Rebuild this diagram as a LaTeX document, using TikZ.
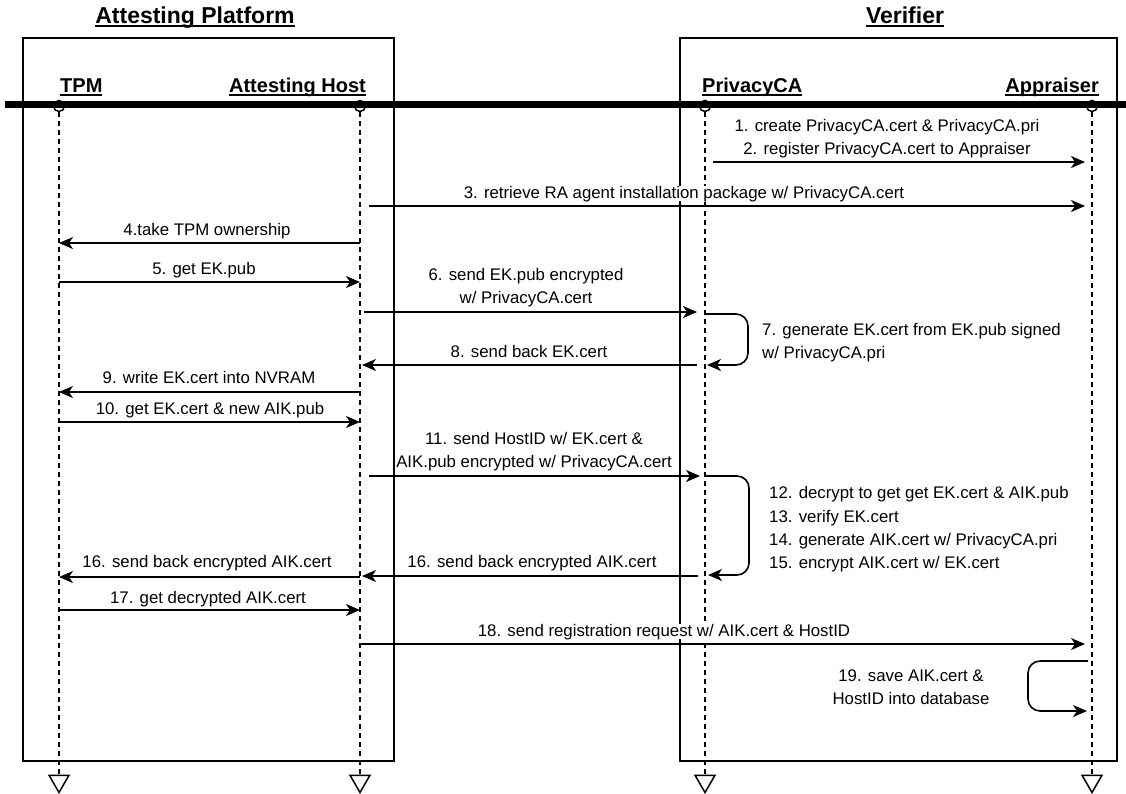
\documentclass[tikz,border=0pt]{standalone}
\usepackage{fontspec}
\setmainfont{Liberation Sans}
\usetikzlibrary{arrows.meta,shapes.geometric}

\newcommand{\ulbx}[1]{\setbox0\hbox{#1}\leavevmode\rlap{\vrule width\wd0 height -2pt depth 4pt}\box0}

\tikzstyle{gT}=[inner sep=0pt,anchor=base,font=\fontsize{23}{28}\selectfont\bfseries]
\tikzstyle{pT}=[inner sep=0pt,font=\fontsize{20}{24}\selectfont\bfseries]
\tikzstyle{mT}=[inner sep=0pt,anchor=base,fill=white,font=\fontsize{16.8}{23}\selectfont]
\tikzstyle{bS}=[line width=1.5pt]
\tikzstyle{lS}=[circle,minimum size=11pt,inner sep=0pt,draw,line width=1.5pt,fill=white]
\tikzstyle{lE}=[regular polygon,regular polygon sides=3,shape border rotate=180,minimum size=23pt,inner sep=0pt,draw,line width=1.5pt]
\tikzstyle{lL}=[line width=1.5pt,dash pattern=on 5pt off 4pt]
\tikzstyle{eM}=[line width=1.6pt,-{Stealth[length=14pt,width=12pt,inset=4pt]}]
\tikzstyle{eL}=[eM,rounded corners=12pt]

\begin{document}
\begin{tikzpicture}[x=1pt,y=-1pt]%[1px = 1pt]
                \useasboundingbox (0,0) rectangle (1126,793);
                \draw[bS] (23,38) rectangle (394,761);
                \draw[bS] (680,38) rectangle (1117,761);
                \draw (195,23) node[gT] (gAP) {\ulbx{Attesting Platform}};
                \draw (905,23) node[gT] (gV) {\ulbx{Verifier}};
                \draw (59,106) node[lS] (tpm) {};
                \draw (360,106) node[lS] (host) {};
                \draw (705,106) node[lS] (pca) {};
                \draw (1092,106) node[lS] (appr) {};
                \draw (59,781) node[lE] (tpmE) {};
                \draw (360,781) node[lE] (hostE) {};
                \draw (705,781) node[lE] (pcaE) {};
                \draw (1092,781) node[lE] (apprE) {};
                \path
                    (tpm) edge[lL] (tpmE)
                    (host) edge[lL] (hostE)
                    (pca) edge[lL] (pcaE)
                    (appr) edge[lL] (apprE)
                ;
                \draw[line width=7pt] (5,104.5) -- (1126,104.5);
                \draw (60,92) node[pT,anchor=base west] (lTPM) {\ulbx{TPM}};
                \draw (366,92) node[pT,anchor=base east] (lHost) {\ulbx{Attesting Host}};
                \draw (702,92) node[pT,anchor=base west] (lPCA) {\ulbx{PrivacyCA}};
                \draw (1099,92) node[pT,anchor=base east] (lAppr) {\ulbx{Appraiser}};
                \coordinate (a2) at (713,162); \coordinate (b2) at (1085,162);
                \coordinate (a3) at (369,206); \coordinate (b3) at (1085,206);
                \coordinate (a4) at (360,243); \coordinate (b4) at (59,243);
                \coordinate (a5) at (59,282); \coordinate (b5) at (360,282);
                \coordinate (a6) at (364,312); \coordinate (b6) at (697,312);
                \coordinate (a7) at (706,314); \coordinate (b7) at (707,365);
                \coordinate (a8) at (697,365); \coordinate (b8) at (362,365);
                \coordinate (a9) at (360,392); \coordinate (b9) at (59,392);
                \coordinate (a10) at (59,422); \coordinate (b10) at (360,422);
                \coordinate (a11) at (369,476); \coordinate (b11) at (700,476);
                \coordinate (a12) at (706,476); \coordinate (b12) at (708,575);
                \coordinate (a16) at (698,576); \coordinate (b16) at (362,576);
                \coordinate (c16) at (360,577); \coordinate (d16) at (59,577);
                \coordinate (a17) at (59,610); \coordinate (b17) at (360,610);
                \coordinate (a18) at (361,644); \coordinate (b18) at (1085,644);
                \coordinate (a19) at (1088,661); \coordinate (b19) at (1087,711);
                \path
                    (a2) edge[eM] (b2)
                    (a3) edge[eM] (b3)
                    (a4) edge[eM] (b4)
                    (a5) edge[eM] (b5)
                    (a6) edge[eM] (b6)
                    (a8) edge[eM] (b8)
                    (a9) edge[eM] (b9)
                    (a10) edge[eM] (b10)
                    (a11) edge[eM] (b11)
                    (a16) edge[eM] (b16)
                    (c16) edge[eM] (d16)
                    (a17) edge[eM] (b17)
                    (a18) edge[eM] (b18)
                ;
                \draw[eL] (a7) -- ++(42,0) |- (b7);
                \draw[eL] (a12) -- ++(43,0) |- (b12);
                \draw[eL] (a19) -- ++(-60,0) |- (b19);
                \draw (887,131) node[mT] (t1) {1. create PrivacyCA.cert \& PrivacyCA.pri};
                \draw (887,154) node[mT] (t2) {2. register PrivacyCA.cert to Appraiser};
                \draw (684,198) node[mT] (t3) {3. retrieve RA agent installation package w/ PrivacyCA.cert};
                \draw (207,235) node[mT] (t4) {4.take TPM ownership};
                \draw (204,274) node[mT] (t5) {5. get EK.pub};
                \draw (526,280) node[mT] (t6a) {6. send EK.pub encrypted};
                \draw (526,303) node[mT] (t6b) {w/ PrivacyCA.cert};
                \draw (762,335) node[mT,anchor=base west] (t7a) {7. generate EK.cert from EK.pub signed};
                \draw (762,358) node[mT,anchor=base west] (t7b) {w/ PrivacyCA.pri};
                \draw (529,357) node[mT] (t8) {8. send back EK.cert};
                \draw (209,383) node[mT] (t9) {9. write EK.cert into NVRAM};
                \draw (210,414) node[mT] (t10) {10. get EK.cert \& new AIK.pub};
                \draw (534,444) node[mT] (t11a) {11. send HostID w/ EK.cert \&};
                \draw (534,467) node[mT] (t11b) {AIK.pub encrypted w/ PrivacyCA.cert};
                \draw (769,498) node[mT,anchor=base west] (t12) {12. decrypt to get get EK.cert \& AIK.pub};
                \draw (769,522) node[mT,anchor=base west] (t13) {13. verify EK.cert};
                \draw (769,545) node[mT,anchor=base west] (t14) {14. generate AIK.cert w/ PrivacyCA.pri};
                \draw (769,568) node[mT,anchor=base west] (t15) {15. encrypt AIK.cert w/ EK.cert};
                \draw (532,567) node[mT] (t16a) {16. send back encrypted AIK.cert};
                \draw (207,567) node[mT] (t16b) {16. send back encrypted AIK.cert};
                \draw (208,603) node[mT] (t17) {17. get decrypted AIK.cert};
                \draw (664,636) node[mT] (t18) {18. send registration request w/ AIK.cert \& HostID};
                \draw (911,681) node[mT] (t19a) {19. save AIK.cert \&};
                \draw (911,704) node[mT] (t19b) {HostID into database};
        \end{tikzpicture}
\end{document}
